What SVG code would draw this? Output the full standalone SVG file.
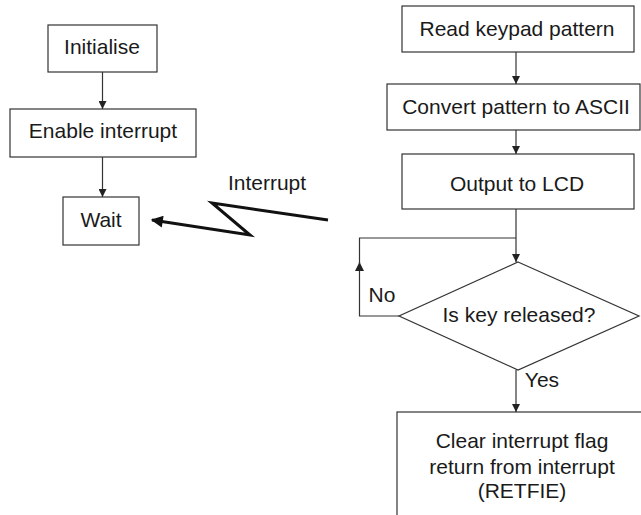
<svg xmlns="http://www.w3.org/2000/svg" width="641" height="515" viewBox="0 0 641 515">
<defs>
<marker id="ah" viewBox="0 0 10 10" refX="10" refY="5" markerWidth="8" markerHeight="8" markerUnits="userSpaceOnUse" orient="auto">
<path d="M0,0 L10,5 L0,10 Z" fill="#222"/>
</marker>
<marker id="ah2" viewBox="0 0 10 10" refX="10" refY="5" markerWidth="10" markerHeight="9" markerUnits="userSpaceOnUse" orient="auto">
<path d="M0,0 L10,5 L0,10 Z" fill="#222"/>
</marker>
<marker id="big" viewBox="0 0 10 10" refX="9" refY="5" markerWidth="14" markerHeight="12" markerUnits="userSpaceOnUse" orient="auto">
<path d="M0,0 L10,5 L0,10 Z" fill="#111"/>
</marker>
</defs>
<style>
rect, polygon { fill: #fff; stroke: #333; stroke-width: 1.2; }
text { font-family: "Liberation Sans", Arial, sans-serif; font-size: 21px; fill: #1a1a1a; text-anchor: middle; }
.c { fill: none; stroke: #333; stroke-width: 1.2; }
</style>
<rect x="0" y="0" width="641" height="515" style="fill:#fff;stroke:none"/>
<g id="connectors">
<line class="c" x1="102.5" y1="72" x2="102.5" y2="109" marker-end="url(#ah)"/>
<line class="c" x1="102.5" y1="157" x2="102.5" y2="197" marker-end="url(#ah)"/>
<line class="c" x1="516" y1="52" x2="516" y2="84" marker-end="url(#ah)"/>
<line class="c" x1="516" y1="130" x2="516" y2="154" marker-end="url(#ah)"/>
<line class="c" x1="516" y1="209" x2="516" y2="262" marker-end="url(#ah)"/>
<polyline class="c" points="399,316 359.5,316 359.5,262" marker-end="url(#ah2)"/>
<polyline class="c" points="359.5,264 359.5,238 516,238"/>
<line class="c" x1="516" y1="370" x2="516" y2="412" marker-end="url(#ah)"/>
<polyline points="328,220 212,203 250,235 152,220" fill="none" stroke="#111" stroke-width="3" stroke-linejoin="miter" marker-end="url(#big)"/>
<text x="267" y="190">Interrupt</text>
<text x="382" y="302">No</text>
<text x="542" y="387">Yes</text>
</g>
<g id="initialise">
<rect x="48" y="25" width="109" height="47"/>
<text x="102" y="54">Initialise</text>
</g>
<g id="enable">
<rect x="10" y="109" width="186" height="48"/>
<text x="103" y="138">Enable interrupt</text>
</g>
<g id="wait">
<rect x="63" y="197" width="76" height="48"/>
<text x="101" y="227">Wait</text>
</g>
<g id="read">
<rect x="402" y="6" width="232" height="46"/>
<text x="517" y="36">Read keypad pattern</text>
</g>
<g id="convert">
<rect x="387" y="84" width="253" height="46"/>
<text x="516" y="114">Convert pattern to ASCII</text>
</g>
<g id="output">
<rect x="402" y="154" width="232" height="55"/>
<text x="517" y="191">Output to LCD</text>
</g>
<g id="decision">
<polygon points="518,262 639,316 518,370 399,316"/>
<text x="519" y="322">Is key released?</text>
</g>
<g id="clear">
<rect x="397" y="412" width="250" height="120"/>
<text x="522" y="448">Clear interrupt flag</text>
<text x="522" y="474">return from interrupt</text>
<text x="522" y="498">(RETFIE)</text>
</g>
</svg>
